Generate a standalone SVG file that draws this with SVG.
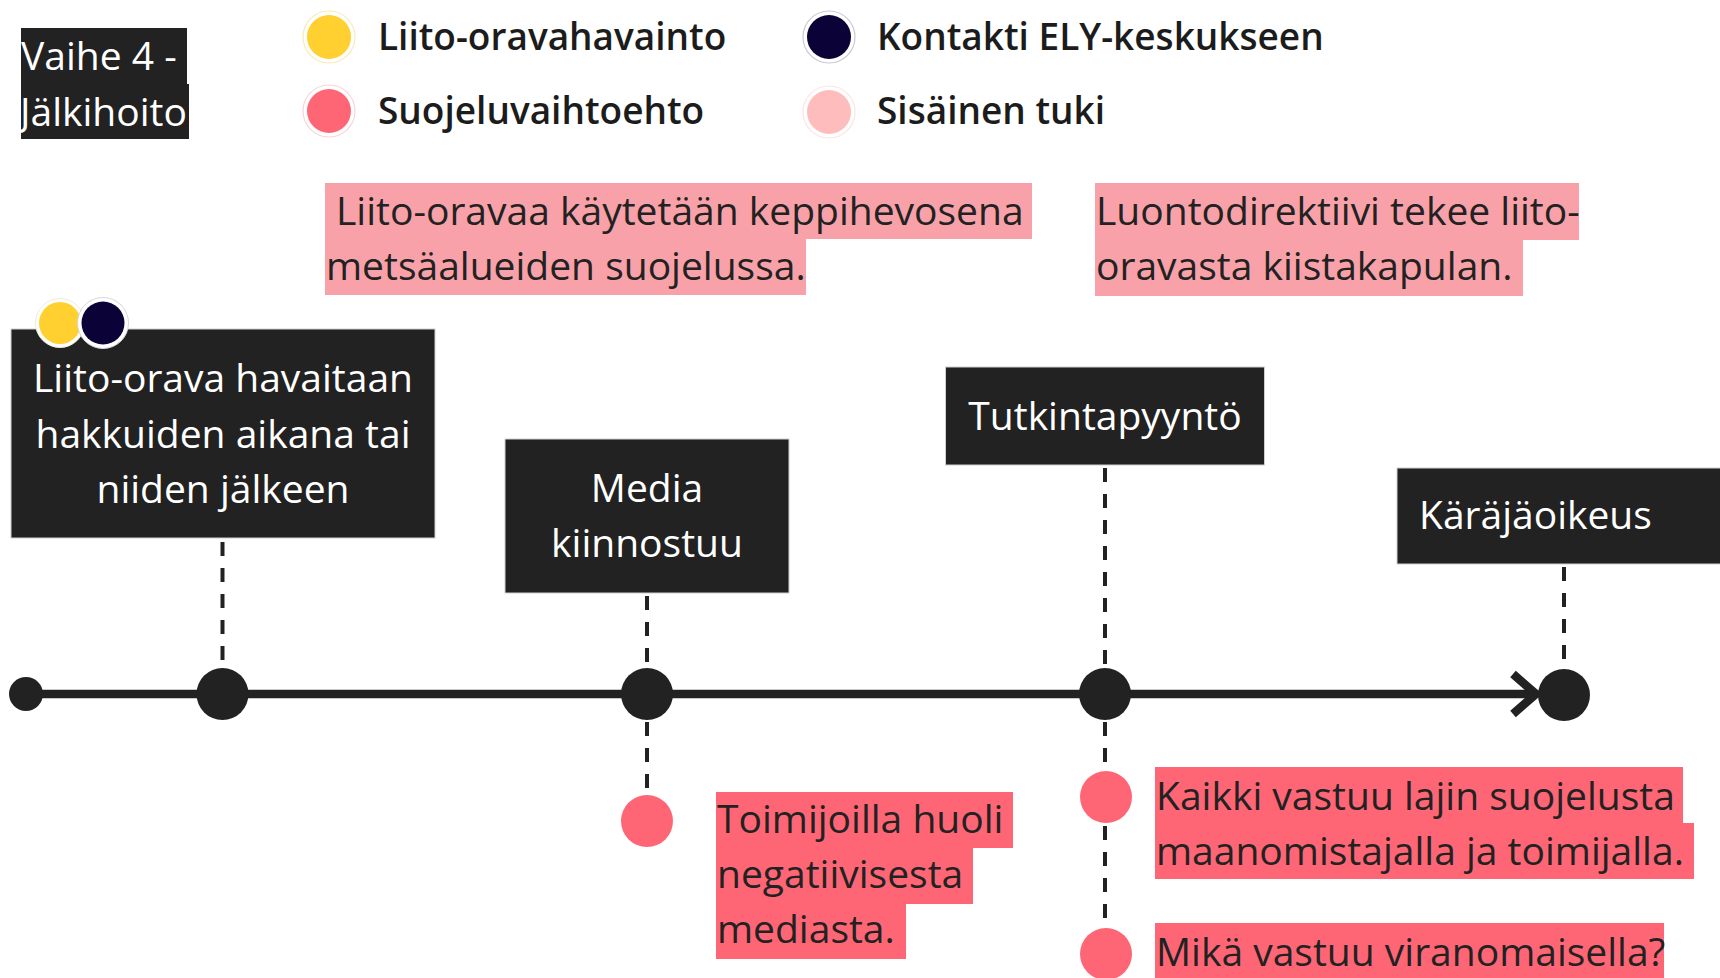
<svg xmlns="http://www.w3.org/2000/svg" width="1720" height="978" viewBox="0 0 1720 978">
  <style>
    text { font-family: "Open Sans", "Noto Sans", "Liberation Sans", sans-serif; font-size: 39px; }
    .box { fill: #222222; stroke: #cfcfcf; stroke-width: 1; }
    .wt { fill: #ffffff; }
    .dt { fill: #222222; }
    .mid { text-anchor: middle; }
    .leg { font-size: 37px; font-weight: 600; fill: #1c1c1c; }
    .soft { fill: #f9a1a9; }
    .red { fill: #ff6675; }
    .dash { stroke: #222222; stroke-width: 4; stroke-dasharray: 14 12; fill: none; }
    .axis { stroke: #222222; stroke-width: 8.5; fill: none; }
    .dot { fill: #222222; }
    .ring { fill: #ffffff; stroke-width: 1.2; }
  </style>

  <rect width="1720" height="978" fill="#ffffff"/>

  <!-- phase title -->
  <g id="phase-title">
    <rect x="21" y="28" width="166" height="56" fill="#222222"/>
    <rect x="21" y="84" width="168" height="55" fill="#222222"/>
    <text class="wt" x="21" y="70">Vaihe 4 -</text>
    <text class="wt" x="20" y="126">Jälkihoito</text>
  </g>

  <!-- legend -->
  <g id="legend">
    <circle class="ring" cx="329" cy="37" r="26" stroke="#fbe9b8"/>
    <circle cx="329" cy="37" r="22" fill="#ffd02f"/>
    <text class="leg" x="378" y="50">Liito-oravahavainto</text>

    <circle class="ring" cx="329" cy="111" r="26" stroke="#fbd3d7"/>
    <circle cx="329" cy="111" r="22" fill="#ff6675"/>
    <text class="leg" x="378" y="124">Suojeluvaihtoehto</text>

    <circle class="ring" cx="829" cy="37" r="26" stroke="#c9c9d6"/>
    <circle cx="829" cy="37" r="22" fill="#0b0238"/>
    <text class="leg" x="877" y="50">Kontakti ELY-keskukseen</text>

    <circle class="ring" cx="829" cy="112" r="26" stroke="#fde3e3"/>
    <circle cx="829" cy="112" r="22" fill="#ffbcbc"/>
    <text class="leg" x="877" y="124">Sisäinen tuki</text>
  </g>

  <!-- context notes above the timeline -->
  <g id="note-keppihevonen">
    <rect class="soft" x="325" y="183" width="707" height="56"/>
    <rect class="soft" x="325" y="239" width="481" height="56"/>
    <text class="dt" x="336" y="225">Liito-oravaa käytetään keppihevosena</text>
    <text class="dt" x="326" y="280">metsäalueiden suojelussa.</text>
  </g>

  <g id="note-luontodirektiivi">
    <rect class="soft" x="1095" y="183" width="484" height="57"/>
    <rect class="soft" x="1095" y="240" width="428" height="56"/>
    <text class="dt" x="1096" y="225">Luontodirektiivi tekee liito-</text>
    <text class="dt" x="1096" y="280">oravasta kiistakapulan.</text>
  </g>

  <!-- connectors: timeline axis and dashed stems -->
  <g id="connectors">
    <line class="axis" x1="26" y1="694" x2="1536" y2="694"/>
    <polyline class="axis" points="1513,674 1536,694 1513,714" stroke-linejoin="miter"/>
    <line class="dash" x1="222.5" y1="542" x2="222.5" y2="668"/>
    <line class="dash" x1="647" y1="596" x2="647" y2="668"/>
    <line class="dash" x1="647" y1="722" x2="647" y2="794"/>
    <line class="dash" x1="1105" y1="468" x2="1105" y2="668"/>
    <line class="dash" x1="1105" y1="722" x2="1105" y2="771"/>
    <line class="dash" x1="1105" y1="826" x2="1105" y2="928"/>
    <line class="dash" x1="1564" y1="567" x2="1564" y2="668"/>
  </g>

  <!-- timeline points -->
  <g id="timeline-start">
    <circle class="dot" cx="26" cy="694" r="17"/>
  </g>

  <g id="node-havainto">
    <rect class="box" x="11" y="329" width="424" height="209"/>
    <circle cx="60" cy="323" r="24.5" fill="#ffffff" stroke="#f3ead0" stroke-width="1"/>
    <circle cx="60" cy="323" r="21" fill="#ffd02f"/>
    <circle cx="103" cy="323" r="25.5" fill="#ffffff" stroke="#d6d6e0" stroke-width="1"/>
    <circle cx="103" cy="323" r="21.5" fill="#0b0238"/>
    <text class="wt mid" x="223" y="392">Liito-orava havaitaan</text>
    <text class="wt mid" x="223" y="448">hakkuiden aikana tai</text>
    <text class="wt mid" x="223" y="503">niiden jälkeen</text>
    <circle class="dot" cx="222.5" cy="694" r="26"/>
  </g>

  <g id="node-media">
    <rect class="box" x="505" y="439" width="284" height="154"/>
    <text class="wt mid" x="647" y="502">Media</text>
    <text class="wt mid" x="647" y="557">kiinnostuu</text>
    <circle class="dot" cx="647" cy="694" r="26"/>
  </g>

  <g id="note-media-huoli">
    <circle class="red" cx="647" cy="821" r="26"/>
    <rect class="red" x="716" y="792" width="297" height="56"/>
    <rect class="red" x="716" y="848" width="257" height="56"/>
    <rect class="red" x="716" y="904" width="190" height="55"/>
    <text class="dt" x="717" y="833">Toimijoilla huoli</text>
    <text class="dt" x="717" y="888">negatiivisesta</text>
    <text class="dt" x="717" y="943">mediasta.</text>
  </g>

  <g id="node-tutkintapyynto">
    <rect class="box" x="945.5" y="367" width="319" height="98"/>
    <text class="wt mid" x="1105" y="430">Tutkintapyyntö</text>
    <circle class="dot" cx="1105" cy="694" r="26"/>
  </g>

  <g id="note-vastuu-toimija">
    <circle class="red" cx="1106" cy="797" r="26"/>
    <rect class="red" x="1155" y="767" width="528" height="56"/>
    <rect class="red" x="1155" y="823" width="539" height="56"/>
    <text class="dt" x="1156" y="810">Kaikki vastuu lajin suojelusta</text>
    <text class="dt" x="1156" y="865">maanomistajalla ja toimijalla.</text>
  </g>

  <g id="note-vastuu-viranomainen">
    <circle class="red" cx="1106" cy="954" r="26"/>
    <rect class="red" x="1155" y="923" width="509" height="56"/>
    <text class="dt" x="1156" y="966">Mikä vastuu viranomaisella?</text>
  </g>

  <g id="node-karajaoikeus">
    <rect class="box" x="1397" y="468" width="330" height="96"/>
    <text class="wt" x="1419" y="529">Käräjäoikeus</text>
    <circle class="dot" cx="1564" cy="695" r="26"/>
  </g>
</svg>
